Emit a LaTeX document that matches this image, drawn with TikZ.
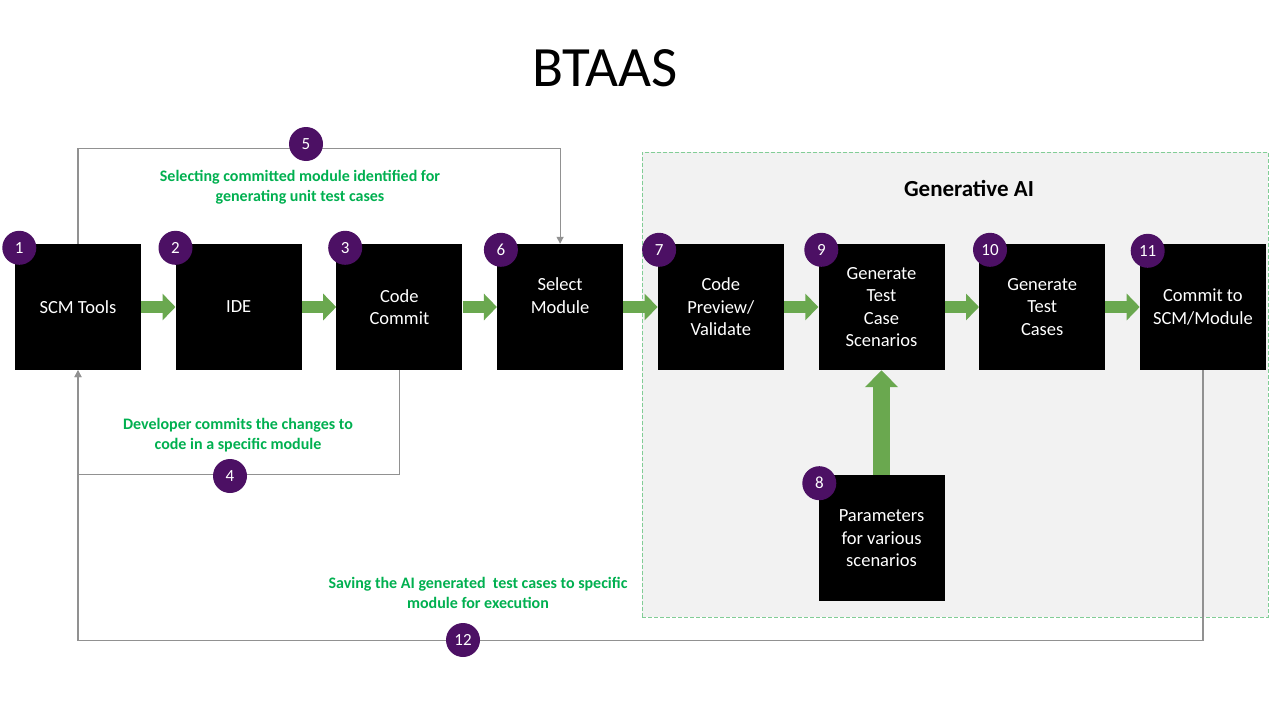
\documentclass[tikz,border=0pt]{standalone}
\usepackage{fontspec}
\setmainfont{Carlito}
\usetikzlibrary{positioning,arrows.meta}
\definecolor{numpurple}{RGB}{76,16,100}
\definecolor{flowgreen}{RGB}{106,168,79}
\definecolor{notegreen}{RGB}{0,176,80}
\definecolor{dashgreen}{RGB}{130,205,150}
\definecolor{regiongray}{RGB}{242,242,242}
\definecolor{loopgray}{RGB}{145,145,145}
\begin{document}
\begin{tikzpicture}[x=1pt,y=-1pt]
                    \tikzstyle{box}=[rectangle, fill=black, text=white, minimum width=126pt, minimum height=126pt, inner sep=2pt, align=center, font=\fontsize{18.5}{22.5}\selectfont]
                    \tikzstyle{num}=[circle, fill=numpurple, text=white, minimum size=34pt, inner sep=0pt, font=\fontsize{17}{17}\selectfont]
                    \tikzstyle{note}=[text=notegreen, align=center, font=\bfseries\fontsize{16}{19.5}\selectfont]
                    \tikzstyle{flow}=[draw=flowgreen, line width=12pt, -{Triangle[length=13pt,width=26pt]}]
                    \tikzstyle{back}=[draw=loopgray, line width=1.2pt, -{Triangle[length=7pt,width=7pt]}]
                    \useasboundingbox[fill=white] (0,0) rectangle (1280,720);
                    \node[font=\fontsize{57}{62}\selectfont] (title) at (605,68) {BTAAS};
                    % generative AI region
                    \node[draw=dashgreen, dash pattern=on 4pt off 2pt, fill=regiongray, minimum width=626pt, minimum height=465pt] (genai) at (955,384.5) {};
                    \node[font=\bfseries\fontsize{23}{26}\selectfont] (genlabel) at (969,188) {Generative AI};
                    % process boxes
                    \node[box] (scm) at (78,307) {SCM Tools};
                    \node[box, right=34.3pt of scm] (ide) {IDE};
                    \node[box, right=34.3pt of ide] (commit) {Code\\Commit};
                    \node[box, right=34.3pt of commit] (select) {Select\\Module\\~};
                    \node[box, right=34.3pt of select] (preview) {Code\\Preview/\\Validate};
                    \node[box, right=34.3pt of preview] (scen) {Generate\\Test\\Case\\Scenarios};
                    \node[box, right=34.3pt of scen] (cases) {Generate\\Test\\Cases};
                    \node[box, right=34.3pt of cases] (save) {Commit to\\SCM/Module};
                    \node[box, below=105pt of scen] (params) {Parameters\\for various\\scenarios};
                    % feedback lines
                    \draw[back] (scm.north) -- ++(0,-95) -| (select.north);
                    \draw[back] (commit.south) -- ++(0,104) -| (scm.south);
                    \draw[back] (save.south) -- ++(0,270) -| (scm.south);
                    % main flow
                    \draw[flow] (scm) -- (ide);
                    \draw[flow] (ide) -- (commit);
                    \draw[flow] (commit) -- (select);
                    \draw[flow] (select) -- (preview);
                    \draw[flow] (preview) -- (scen);
                    \draw[flow] (scen) -- (cases);
                    \draw[flow] (cases) -- (save);
                    \draw[flow, line width=17pt, -{Triangle[length=17pt,width=32pt]}] (params) -- (scen);
                    % step numbers
                    \node[num] (n1) at ([shift={(4.5,4)}]scm.north west) {1};
                    \node[num] (n2) at ([shift={(0,4)}]ide.north west) {2};
                    \node[num] (n3) at ([shift={(9,4)}]commit.north west) {3};
                    \node[num] (n4) at (230,476) {4};
                    \node[num] (n5) at (306,144) {5};
                    \node[num] (n6) at ([shift={(4,6)}]select.north west) {6};
                    \node[num] (n7) at ([shift={(1.5,6)}]preview.north west) {7};
                    \node[num] (n8) at ([shift={(1,8)}]params.north west) {8};
                    \node[num] (n9) at ([shift={(3,6)}]scen.north west) {9};
                    \node[num] (n10) at ([shift={(11,6)}]cases.north west) {10};
                    \node[num] (n11) at ([shift={(8,7)}]save.north west) {11};
                    \node[num] (n12) at (463,640) {12};
                    % notes
                    \node[note] (note5) at (300,187) {Selecting committed module identified for\\generating unit test cases};
                    \node[note] (note4) at (238,435) {Developer commits the changes to\\code in a specific module};
                    \node[note] (note12) at (478,593) {Saving the AI generated \ test cases to specific\\module for execution};
                \end{tikzpicture}
\end{document}
